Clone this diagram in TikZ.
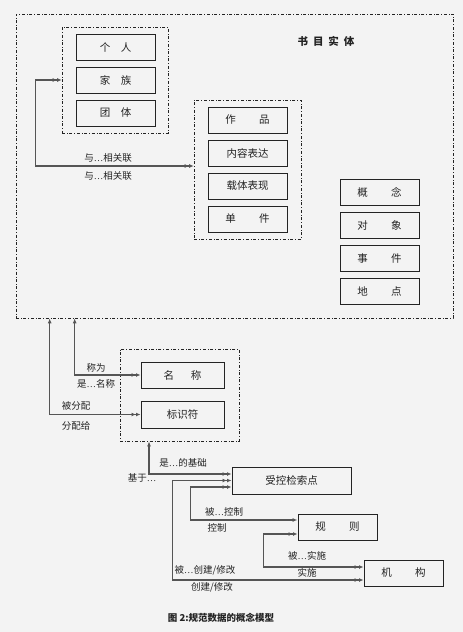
\documentclass[tikz,border=0pt]{standalone}
\usepackage{fontspec}
\setmainfont{Noto Sans CJK SC}
\newfontfamily\latinfont{Liberation Serif}
\usetikzlibrary{arrows.meta}
\definecolor{paper}{RGB}{243,243,243}
\definecolor{ink}{RGB}{35,35,35}
\definecolor{wirec}{RGB}{85,85,85}
\newcommand{\elp}{{\latinfont\ldots}}
\begin{document}
\begin{tikzpicture}[x=1pt,y=-1pt,
	ent/.style={draw=ink, line width=1pt, minimum width=79pt, minimum height=26pt, inner sep=0pt, text=ink, font=\fontsize{10.5}{12}\selectfont},
	grp/.style={draw=ink, dash dot, line width=0.7pt, inner sep=0pt},
	lbl/.style={text=ink, inner sep=0pt, font=\fontsize{9.5}{11}\selectfont},
	wire/.style={draw=wirec, line width=1.1pt},
	dd/.tip={Latex[length=4.5pt,width=4pt] Latex[length=4.5pt,width=4pt]},
	d1/.tip={Latex[length=5pt,width=4pt]}]
	\fill[paper] (0,0) rectangle (463,632);
	\useasboundingbox (0,0) rectangle (463,632);

	% bibliographic entities
	\node[grp, minimum width=437pt, minimum height=304pt] (frame) at (234.5,166) {};
	\node[text=ink, font=\bfseries\fontsize{10.5}{12}\selectfont] (title) at (326,41) {书\hspace{5pt}目\hspace{5pt}实\hspace{5pt}体};

	\node[grp, minimum width=106pt, minimum height=106pt] (agents) at (115,80) {};
	\node[ent] (person) at (115.5,47) {个\hspace{1em}人};
	\node[ent] (family) at (115.5,80) {家\hspace{1em}族};
	\node[ent] (corp) at (115.5,113) {团\hspace{1em}体};

	\node[grp, minimum width=107pt, minimum height=139pt] (works) at (247.5,169.5) {};
	\node[ent] (work) at (247.5,120) {作\hspace{2.2em}品};
	\node[ent] (expr) at (247.5,153) {内容表达};
	\node[ent] (manif) at (247.5,186) {载体表现};
	\node[ent] (item) at (247.5,219) {单\hspace{2.2em}件};

	\node[ent] (concept) at (379.5,192.5) {概\hspace{2.2em}念};
	\node[ent] (object) at (379.5,225.5) {对\hspace{2.2em}象};
	\node[ent] (event) at (379.5,258.5) {事\hspace{2.2em}件};
	\node[ent] (place) at (379.5,291.5) {地\hspace{2.2em}点};

	\draw[wire, dd-dd] (agents.west) -- ++(-26,0) |- ([yshift=3.5pt]works.west);
	\node[lbl] (rel1) at (108,158) {与\elp 相关联};
	\node[lbl] (rel2) at (108,176) {与\elp 相关联};

	% names and identifiers
	\node[grp, minimum width=119pt, minimum height=92pt] (names) at (179.5,395) {};
	\node[ent, minimum width=83pt] (name) at (182.5,375) {名\hspace{1.6em}称};
	\node[ent, minimum width=83pt, minimum height=27pt] (ident) at (182.5,414.5) {标识符};

	\draw[wire, d1-dd] ([xshift=59pt]frame.south west) |- (name.west);
	\draw[wire, d1-dd] ([xshift=34pt]frame.south west) |- (ident.west);
	\node[lbl] (known) at (96,368) {称为};
	\node[lbl] (nameof) at (96,384) {是\elp 名称};
	\node[lbl] (assigned) at (76,406) {被分配};
	\node[lbl] (assignto) at (76,426) {分配给};

	% access points
	\node[ent, minimum width=119pt, minimum height=27pt] (cap) at (291.5,480.5) {受控检索点};
	\node[ent] (rule) at (337.5,527) {规\hspace{2.2em}则};
	\node[ent] (org) at (403.5,573) {机\hspace{2.2em}构};

	\draw[wire, d1-dd] ([xshift=-30.5pt]names.south) |- ([yshift=6.5pt]cap.west);
	\draw[wire, dd-dd] (cap.west) -- ++(-59,0) |- ([yshift=-7pt]org.west);
	\draw[wire, dd-d1] ([yshift=-6.5pt]cap.west) -- ++(-41,0) |- ([yshift=7pt]rule.west);
	\draw[wire, dd-dd] ([yshift=-7pt]rule.west) -- ++(-34,0) |- ([yshift=6pt]org.west);

	\node[lbl] (basis) at (183,463) {是\elp 的基础};
	\node[lbl] (based) at (142,478) {基于\elp};
	\node[lbl] (ctrlby) at (224,512) {被\elp 控制};
	\node[lbl] (ctrl) at (217,528) {控制};
	\node[lbl] (appby) at (307,556) {被\elp 实施};
	\node[lbl] (app) at (307,573) {实施};
	\node[lbl] (madeby) at (205,570) {被\elp 创建/修改};
	\node[lbl] (made) at (212,587) {创建/修改};

	\node[text=ink, font=\bfseries\fontsize{9.5}{11}\selectfont] (caption) at (221,618) {图 2:规范数据的概念模型};
\end{tikzpicture}
\end{document}
